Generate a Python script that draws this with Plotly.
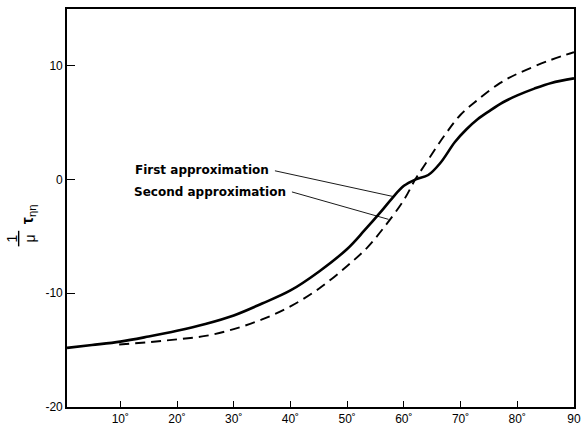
import plotly.graph_objects as go

# Data
first_x = [0.6, 5, 10, 15, 20, 25, 30, 35, 40, 45, 50, 53, 56, 58, 60, 62, 64.3, 66.5, 69, 71, 73, 75, 77.5, 80, 83, 86, 90]
first_y = [-14.8, -14.55, -14.25, -13.8, -13.3, -12.7, -11.95, -10.9, -9.75, -8.1, -6.1, -4.5, -2.8, -1.6, -0.55, 0.0, 0.4, 1.5, 3.3, 4.4, 5.3, 6.0, 6.8, 7.4, 8.0, 8.5, 8.9]

second_x = [9.8, 15, 20, 25, 30, 35, 40, 45, 50, 53.5, 56.5, 60, 62, 63.7, 67.2, 70, 73, 77, 80, 85.8, 90]
second_y = [-14.5, -14.3, -14.05, -13.75, -13.15, -12.3, -11.15, -9.6, -7.6, -6.0, -4.2, -1.8, 0.0, 1.3, 3.9, 5.7, 7.0, 8.5, 9.3, 10.5, 11.2]

x_ticks = [10, 20, 30, 40, 50, 60, 70, 80, 90]
x_ticklabels = ["10˚", "20˚", "30˚", "40˚", "50˚", "60˚", "70˚", "80˚", "90"]
y_ticks = [-20, -10, 0, 10]
y_ticklabels = ["-20", "-10", "0", "10"]

labels = ["First approximation", "Second approximation"]
label_pos = [(36.6, 0.8), (39.6, -1.05)]
leader_tail = [(37.0, 0.8), (40.0, -1.05)]
leader_head = [(58.2, -1.5), (57.3, -3.5)]

fig = go.Figure()
fig.add_trace(go.Scatter(x=first_x, y=first_y, mode="lines",
                         line=dict(color="black", width=2.6, shape="spline", smoothing=1.0),
                         name=labels[0], showlegend=False, hoverinfo="skip"))
fig.add_trace(go.Scatter(x=second_x, y=second_y, mode="lines",
                         line=dict(color="black", width=1.9, dash="10px,6px", shape="spline", smoothing=1.0),
                         name=labels[1], showlegend=False, hoverinfo="skip"))

font_main = "Liberation Sans, Arial, sans-serif"
font_label = "DejaVu Sans, Verdana, sans-serif"
for lab, (tx, ty), (ax, ay), (hx, hy) in zip(labels, label_pos, leader_tail, leader_head):
    fig.add_annotation(x=tx, y=ty, text="<b>" + lab + "</b>", showarrow=False,
                       xanchor="right", yanchor="middle",
                       font=dict(family=font_label, size=12, color="black"))
    fig.add_annotation(x=hx, y=hy, ax=ax, ay=ay, axref="x", ayref="y", text="",
                       showarrow=True, arrowhead=0, arrowwidth=0.9, arrowcolor="black")

# y-axis title: 1/mu tau_eta eta
fig.add_annotation(xref="paper", yref="y", x=-0.0914, y=-5.2, xanchor="center", yanchor="middle",
                   text="<u>\u00a01\u00a0</u><br>μ", textangle=-90, showarrow=False,
                   font=dict(family=font_main, size=14, color="black"))
fig.add_annotation(xref="paper", yref="y", x=-0.076, y=-3.0, xanchor="center", yanchor="middle",
                   text="<b>τ</b><sub>ηη</sub>", textangle=-90, showarrow=False,
                   font=dict(family=font_main, size=16, color="black"))

fig.update_layout(
    width=588, height=433,
    margin=dict(l=67, r=7, t=7, b=24),
    paper_bgcolor="white", plot_bgcolor="white",
    font=dict(family=font_main, size=12, color="black"),
    xaxis=dict(range=[0.6, 90], tickvals=x_ticks, ticktext=x_ticklabels,
               ticks="inside", ticklen=6, tickwidth=1.2, tickcolor="black",
               showline=True, linecolor="black", linewidth=1.6, mirror=True,
               showgrid=False, zeroline=False, fixedrange=True),
    yaxis=dict(range=[-20, 15], tickvals=y_ticks, ticktext=y_ticklabels,
               ticks="inside", ticklen=8, tickwidth=1.2, tickcolor="black",
               showline=True, linecolor="black", linewidth=1.6, mirror=True,
               showgrid=False, zeroline=False, fixedrange=True),
)

fig.write_html("out.html", config={"displayModeBar": False},
               post_script="document.body.style.margin='0';document.body.style.overflow='hidden';")
